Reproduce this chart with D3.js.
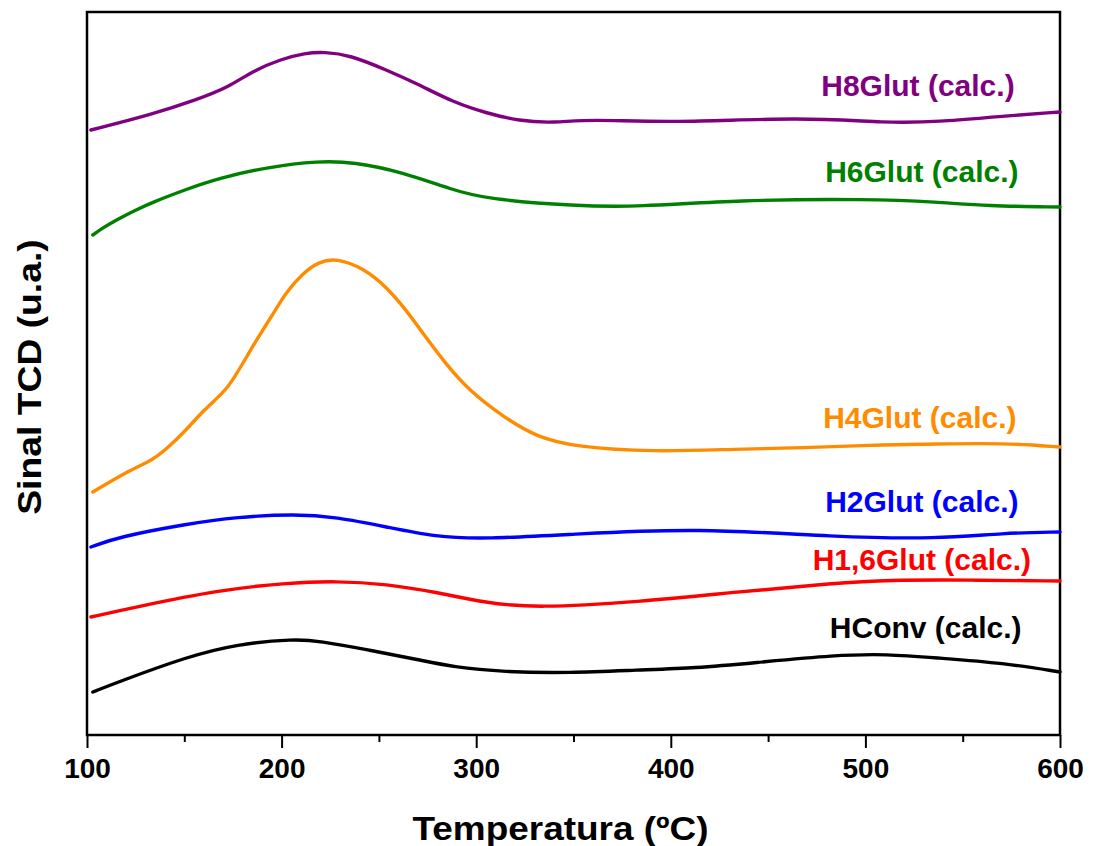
<!DOCTYPE html>
<html>
<head>
<meta charset="utf-8">
<script src="https://cdn.jsdelivr.net/npm/d3@7"></script>
<style>
  body { margin: 0; background: #fff; }
  text { font-family: "Liberation Sans", Arial, sans-serif; font-weight: bold; }
</style>
</head>
<body>
<div id="chart"></div>
<script>
// temperatures (ºC) and TCD signal (a.u., stacked offsets as in the figure)
var tempH8 = [102, 134, 156, 173, 185, 200, 212, 222, 235, 254, 271, 288, 305, 322, 340, 358, 400, 468, 511, 537, 571, 600];
var sigH8  = [605, 621, 635, 648, 664, 676, 682, 683, 680, 665, 650, 633, 622, 614, 612, 616, 612, 618, 612, 613, 619, 623];

var tempH6 = [103, 108, 116, 125, 134, 150, 168, 193, 219, 237, 262, 288, 305, 351, 383, 434, 502, 537, 562, 600];
var sigH6  = [500, 507, 516, 525, 533, 545, 557, 568, 574, 573, 563, 545, 536, 529, 528, 535, 536, 533, 529, 528];

var tempH4 = [103, 122, 134, 142, 151, 160, 170, 175, 182, 188, 196, 202, 211, 219, 228, 242, 254, 264, 274, 284, 296, 314, 331, 351, 391, 434, 468, 502, 537, 571, 600];
var sigH4  = [243, 265, 275, 288, 305, 325, 342, 355, 378, 398, 422, 442, 462, 473, 477, 467, 448, 425, 398, 372, 345, 318, 298, 288, 283, 286, 287, 290, 291, 292, 288];

var tempH2 = [102, 116, 151, 177, 207, 228, 254, 279, 305, 351, 413, 485, 537, 571, 600];
var sigH2  = [188, 198, 211, 218, 221, 218, 208, 198, 196, 201, 207, 198, 196, 202, 203];

var tempH16 = [102, 125, 168, 202, 228, 254, 279, 305, 331, 383, 434, 485, 511, 554, 600];
var sigH16  = [118, 128, 145, 152, 154, 151, 143, 132, 127, 133, 143, 152, 155, 155, 154];

var tempHC = [103, 116, 151, 177, 207, 219, 245, 271, 288, 314, 348, 383, 413, 442, 485, 511, 537, 571, 600];
var sigHC  = [43, 53, 78, 91, 96, 94, 85, 75, 68, 63, 62, 65, 67, 72, 80, 81, 77, 72, 63];

var seriesNames  = ["H8Glut (calc.)", "H6Glut (calc.)", "H4Glut (calc.)", "H2Glut (calc.)", "H1,6Glut (calc.)", "HConv (calc.)"];
var seriesColors = ["#800080", "#008000", "#ff8c00", "#0000ff", "#ff0000", "#000000"];
var seriesTemps  = [tempH8, tempH6, tempH4, tempH2, tempH16, tempHC];
var seriesSigs   = [sigH8, sigH6, sigH4, sigH2, sigH16, sigHC];

// label anchor points (temperature, signal)
var labelT   = [527, 529, 528, 529, 529, 531];
var labelSig = [639, 553, 307, 223, 165, 97];

var xTicks = [100, 200, 300, 400, 500, 600];
var xMinor = [150, 250, 350, 450, 550];

var width = 1093, height = 846;
var margin = {top: 12, right: 33, bottom: 111, left: 87};
var plotW = width - margin.left - margin.right;
var plotH = height - margin.top - margin.bottom;

var svg = d3.select("#chart").append("svg")
    .attr("width", width)
    .attr("height", height);

var g = svg.append("g")
    .attr("transform", "translate(" + margin.left + "," + margin.top + ")");

var x = d3.scaleLinear().domain([100, 600]).range([0, plotW]);
var y = d3.scaleLinear().domain([0, plotH]).range([plotH, 0]);

// minor ticks
g.append("g")
    .attr("transform", "translate(0," + plotH + ")")
    .call(d3.axisBottom(x).tickValues(xMinor).tickSize(7).tickFormat(""))
    .call(a => a.select(".domain").remove())
    .call(a => a.selectAll("line").attr("stroke-width", 2));

// major ticks + labels
var xAxis = g.append("g")
    .attr("transform", "translate(0," + plotH + ")")
    .call(d3.axisBottom(x).tickValues(xTicks).tickSize(13).tickPadding(10).tickFormat(d3.format("d")));
xAxis.select(".domain").remove();
xAxis.selectAll("line").attr("stroke-width", 2);
xAxis.selectAll("text")
    .attr("font-size", 28)
    .attr("fill", "#000")
    .style("font-family", "'Liberation Sans', Arial, sans-serif")
    .style("font-weight", "bold");

// frame
g.append("rect")
    .attr("x", 0).attr("y", 0)
    .attr("width", plotW).attr("height", plotH)
    .attr("fill", "none")
    .attr("stroke", "#000")
    .attr("stroke-width", 2.5);

var line = d3.line()
    .x(d => x(d[0]))
    .y(d => y(d[1]))
    .curve(d3.curveBasis);

seriesNames.forEach(function(name, i) {
    var pts = seriesTemps[i].map((t, j) => [t, seriesSigs[i][j]]);
    g.append("path")
        .datum(pts)
        .attr("d", line)
        .attr("fill", "none")
        .attr("stroke", seriesColors[i])
        .attr("stroke-width", 3.4)
        .attr("stroke-linecap", "round")
        .attr("stroke-linejoin", "round");

    g.append("text")
        .attr("x", x(labelT[i]))
        .attr("y", y(labelSig[i]))
        .attr("text-anchor", "middle")
        .attr("font-size", 30)
        .attr("fill", seriesColors[i])
        .text(name);
});

// axis titles (slightly widened like the original)
svg.append("text")
    .attr("transform", "translate(" + (margin.left + plotW / 2 - 13) + ",840) scale(1.12,1)")
    .attr("text-anchor", "middle")
    .attr("font-size", 33)
    .attr("fill", "#000")
    .text("Temperatura (ºC)");

svg.append("text")
    .attr("transform", "translate(41,377) rotate(-90) scale(1.13,1)")
    .attr("text-anchor", "middle")
    .attr("font-size", 33)
    .attr("fill", "#000")
    .text("Sinal TCD (u.a.)");
</script>
</body>
</html>
